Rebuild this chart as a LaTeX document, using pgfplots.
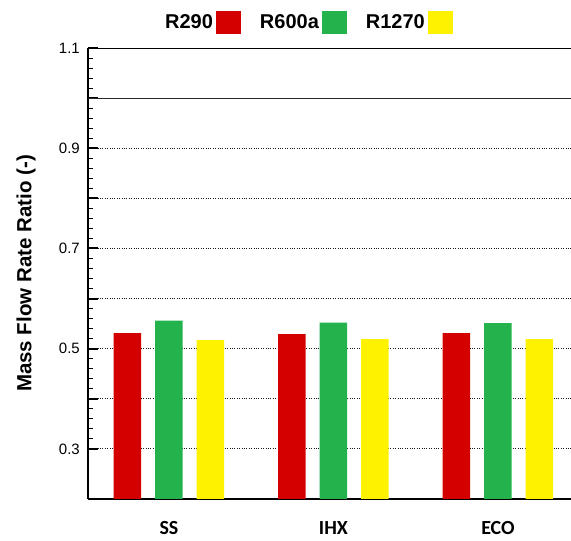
\documentclass[border=0pt]{standalone}
\usepackage{pgfplots}
\pgfplotsset{compat=1.18}
\usepackage{fontspec}
\setmainfont{Liberation Sans}
\newfontfamily\carlito{Carlito}
\definecolor{cred}{HTML}{D40000}
\definecolor{cgreen}{HTML}{23B24C}
\definecolor{cyellow}{HTML}{FFF200}
\pgfplotsset{sqleg/.style={legend image code/.code={\fill[##1,draw=none] (0pt,-11.5pt) rectangle (25pt,11.5pt);}}}
\begin{document}
\begin{tikzpicture}
\useasboundingbox (-88pt,-42pt) rectangle (483pt,499pt);
\begin{axis}[
  at={(0pt,0pt)}, anchor=south west,
  scale only axis, width=483pt, height=451pt,
  xmin=-0.4924, xmax=2.444, ymin=0.2, ymax=1.1,
  ybar=14pt, bar width=27.5pt,
  axis x line*=bottom, axis y line*=left,
  axis line style={line width=2.5pt, -},
  xtick={0,1,2}, xticklabels={SS,IHX,ECO},
  xticklabel style={font=\carlito\bfseries\fontsize{20}{24}\selectfont, anchor=base, yshift=-36pt},
  ytick={0.3,0.4,0.5,0.6,0.7,0.8,0.9,1.0,1.1},
  yticklabels={0.3,{},0.5,{},0.7,{},0.9,{},1.1},
  yticklabel style={font=\fontsize{15}{18}\selectfont, inner sep=0pt, xshift=-8pt},
  minor y tick num=4,
  tick align=inside,
  major tick length=10pt, minor tick length=5pt,
  major tick style={line width=2pt, black},
  minor tick style={line width=1pt, black},
  xtick style={draw=none},
  ymajorgrids, grid style={dotted, line width=1pt, black!90},
  ylabel={\bfseries Mass Flow Rate Ratio (-)},
  ylabel style={font=\fontsize{20.5}{24}\selectfont, at={(axis description cs:-0.1284,0.5)}, anchor=center},
  legend columns=3,
  legend style={draw=none, fill=none, inner sep=0pt, at={(axis description cs:0.1594,1.082)}, anchor=north west,
    font=\bfseries\fontsize{20}{24}\selectfont,
    /tikz/every odd column/.append style={column sep=3pt},
    /tikz/every even column/.append style={column sep=19pt},
    nodes={inner sep=0pt}},
  legend plot pos=right,
]
\addplot[sqleg, fill=cred, draw=none] coordinates {(0,0.531) (1,0.529) (2,0.531)};
\addlegendentry{R290}
\addplot[sqleg, fill=cgreen, draw=none] coordinates {(0,0.556) (1,0.552) (2,0.551)};
\addlegendentry{R600a}
\addplot[sqleg, fill=cyellow, draw=none] coordinates {(0,0.517) (1,0.519) (2,0.519)};
\addlegendentry{R1270}
\draw[line width=1pt, black!85] (rel axis cs:0,0.8889) -- (rel axis cs:1,0.8889);
\draw[line width=2.5pt, black] (rel axis cs:0,1) -- (rel axis cs:1,1);
\end{axis}
\end{tikzpicture}
\end{document}
